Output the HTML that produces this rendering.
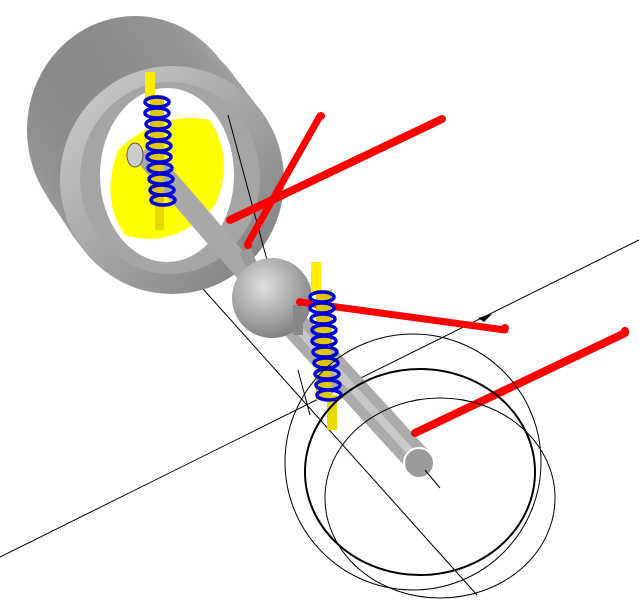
<!DOCTYPE html>
<html><head><meta charset="utf-8"><style>html,body{margin:0;padding:0;background:#fff}svg{display:block}</style></head>
<body>
<svg width="639" height="614" viewBox="0 0 639 614" xmlns="http://www.w3.org/2000/svg">
<defs>
<linearGradient id="tire" x1="0" y1="0" x2="1" y2="1"><stop offset="0" stop-color="#808080"/><stop offset="0.5" stop-color="#a0a0a0"/><stop offset="1" stop-color="#6e6e6e"/></linearGradient>
<linearGradient id="face" x1="0" y1="0" x2="1" y2="1"><stop offset="0" stop-color="#d0d0d0"/><stop offset="1" stop-color="#7a7a7a"/></linearGradient>
<radialGradient id="sph" cx="0.4" cy="0.35" r="0.7"><stop offset="0" stop-color="#e0e0e0"/><stop offset="1" stop-color="#7d7d7d"/></radialGradient>
</defs>
<line x1="0" y1="557" x2="639" y2="240" stroke="#000" stroke-width="1"/>
<line x1="195" y1="280" x2="477" y2="595" stroke="#000" stroke-width="1"/>
<!-- tire extrusion -->
<g fill="url(#tire)">
<ellipse cx="135" cy="130" rx="108" ry="114"/>
<ellipse cx="140" cy="137" rx="109" ry="114"/>
<ellipse cx="145" cy="143" rx="110" ry="114"/>
<ellipse cx="150" cy="150" rx="110" ry="114"/>
<ellipse cx="155" cy="157" rx="111" ry="114"/>
<ellipse cx="160" cy="164" rx="111" ry="114"/>
<ellipse cx="165" cy="171" rx="112" ry="114"/>
</g>
<ellipse cx="172" cy="180" rx="112" ry="114" fill="url(#face)"/>
<ellipse cx="170" cy="178" rx="90" ry="96" fill="#a5a5a5"/>
<ellipse cx="167" cy="175" rx="67" ry="87" fill="#fff"/>
<path d="M118,150 Q160,110 210,120 Q235,160 215,205 Q175,250 125,235 Q100,200 118,150Z" fill="#ffff00"/>
<line x1="228" y1="115" x2="271" y2="275" stroke="#000" stroke-width="1"/>
<line x1="150" y1="160" x2="262" y2="290" stroke="#a8a8a8" stroke-width="22" stroke-linecap="round"/>
<line x1="290" y1="320" x2="420" y2="462" stroke="#ababab" stroke-width="28"/>
<line x1="290" y1="320" x2="420" y2="462" stroke="#c8c8c8" stroke-width="8"/>
<line x1="245" y1="250" x2="262" y2="290" stroke="#999" stroke-width="12"/>
<ellipse cx="419" cy="463" rx="15" ry="15" fill="#9a9a9a" stroke="#fff" stroke-width="2"/>
<line x1="425" y1="470" x2="440" y2="488" stroke="#000" stroke-width="1"/>
<ellipse cx="135" cy="155" rx="8" ry="12" fill="#ccc" stroke="#555" stroke-width="1"/>
<circle cx="272" cy="298" r="40" fill="url(#sph)"/>
<rect x="293" y="305" width="10" height="30" fill="#888"/>
<g stroke="#ff0000" stroke-linecap="round">
<line x1="230" y1="220" x2="440" y2="120" stroke-width="8"/>
<line x1="248" y1="243" x2="320" y2="116" stroke-width="7"/>
<line x1="300" y1="302" x2="505" y2="330" stroke-width="7"/>
<line x1="415" y1="433" x2="625" y2="333" stroke-width="8"/>
</g>
<g fill="#ff0000"><circle cx="321" cy="116" r="4"/><circle cx="442" cy="119" r="4"/><circle cx="505" cy="328" r="4"/><circle cx="625" cy="331" r="4"/><circle cx="248" cy="245" r="4"/><circle cx="300" cy="302" r="4"/></g>
<path d="M478,318 L492,314 L484,322Z" fill="#000"/>
<g>
<rect x="155" y="185" width="9" height="45" fill="#e8d800"/>
<rect x="145" y="72" width="10" height="30" fill="#ffee00"/>
<rect x="150" y="95" width="14" height="110" fill="#e0c800"/>
<g fill="none" stroke="#0000dd" stroke-width="3.5">
<ellipse cx="157" cy="102" rx="12" ry="5"/><ellipse cx="157" cy="113" rx="12" ry="5"/><ellipse cx="158" cy="124" rx="12" ry="5"/><ellipse cx="158" cy="135" rx="12" ry="5"/><ellipse cx="159" cy="146" rx="12" ry="5"/><ellipse cx="159" cy="157" rx="12" ry="5"/><ellipse cx="160" cy="168" rx="12" ry="5"/><ellipse cx="161" cy="179" rx="12" ry="5"/><ellipse cx="162" cy="190" rx="12" ry="5"/><ellipse cx="163" cy="200" rx="12" ry="5"/>
</g>
<rect x="327" y="395" width="10" height="35" fill="#e8d800"/>
<rect x="311" y="262" width="10" height="30" fill="#ffee00"/>
<rect x="316" y="290" width="16" height="110" fill="#e0c800"/>
<g fill="none" stroke="#0000dd" stroke-width="3.5">
<ellipse cx="322" cy="297" rx="12" ry="5"/><ellipse cx="322" cy="308" rx="12" ry="5"/><ellipse cx="323" cy="319" rx="12" ry="5"/><ellipse cx="324" cy="330" rx="12" ry="5"/><ellipse cx="324" cy="341" rx="12" ry="5"/><ellipse cx="325" cy="352" rx="12" ry="5"/><ellipse cx="326" cy="363" rx="12" ry="5"/><ellipse cx="327" cy="374" rx="12" ry="5"/><ellipse cx="328" cy="385" rx="12" ry="5"/><ellipse cx="329" cy="395" rx="12" ry="5"/>
</g>
</g>
<line x1="298" y1="370" x2="310" y2="415" stroke="#000" stroke-width="1"/>
<g fill="none" stroke="#000">
<ellipse cx="413" cy="462" rx="128" ry="128" stroke-width="1"/>
<ellipse cx="420" cy="472" rx="115" ry="103" stroke-width="2"/>
<ellipse cx="440" cy="498" rx="115" ry="100" stroke-width="1"/>
</g>
</svg>
</body></html>
